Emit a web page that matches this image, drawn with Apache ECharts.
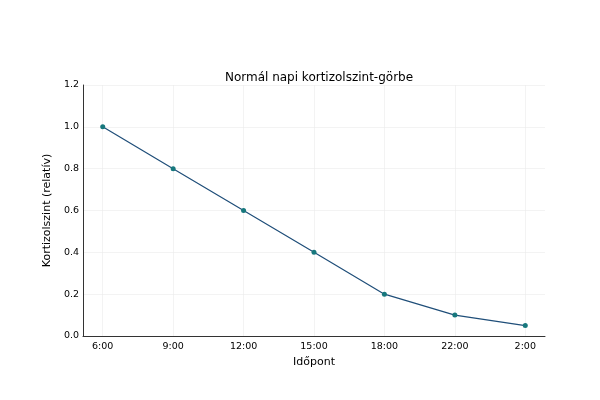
<!DOCTYPE html>
<html><head><meta charset="utf-8">
<script src="https://cdn.jsdelivr.net/npm/echarts@6/dist/echarts.min.js"></script>
<style>body{margin:0}#c{width:600px;height:400px}</style></head>
<body><div id="c"></div>
<script>
const categories = ['6:00','9:00','12:00','15:00','18:00','22:00','2:00'];
const values = [1.0, 0.8, 0.6, 0.4, 0.2, 0.1, 0.05];
const yTicks = [0, 0.2, 0.4, 0.6, 0.8, 1.0, 1.2];
const idx = categories.map((_, i) => i);
const chart = echarts.init(document.getElementById('c'));
chart.setOption({
  animation: false,
  title: {text: 'Normál napi kortizolszint-görbe', left: 314, top: 67, textAlign: 'center',
    textStyle: {fontFamily: 'DejaVu Sans', fontSize: 12, fontWeight: 'normal', color: '#000'}},
  grid: {left: 83, right: 55, top: 85, bottom: 64},
  xAxis: {type: 'value', min: -0.28, max: 6.28, name: 'Időpont', nameLocation: 'middle', nameGap: 20,
    nameTextStyle: {fontFamily: 'DejaVu Sans', fontSize: 11, color: '#000'},
    axisLine: {show: true, onZero: false, lineStyle: {color: '#333'}},
    axisTick: {show: false, customValues: idx},
    axisLabel: {customValues: idx, formatter: v => categories[Math.round(v)], fontFamily: 'DejaVu Sans', fontSize: 9.5, color: '#000', margin: 6},
    splitLine: {show: true, lineStyle: {color: '#ebebeb', width: 0.6}}},
  yAxis: {type: 'value', min: 0, max: 1.2, interval: 0.2, name: 'Kortizolszint (relatív)', nameLocation: 'middle', nameGap: 24,
    nameTextStyle: {fontFamily: 'DejaVu Sans', fontSize: 11, color: '#000'},
    axisLine: {show: true, onZero: false, lineStyle: {color: '#333'}}, axisTick: {show: false},
    axisLabel: {formatter: v => v.toFixed(1), fontFamily: 'DejaVu Sans', fontSize: 9.5, color: '#000', margin: 4},
    splitLine: {show: true, lineStyle: {color: '#ebebeb', width: 0.6}}},
  series: [{type: 'line', data: idx.map(i => [i, values[i]]), symbol: 'circle', symbolSize: 5,
    lineStyle: {color: '#1f4e79', width: 1.2}, itemStyle: {color: '#17787d'}}]
});
</script></body></html>
